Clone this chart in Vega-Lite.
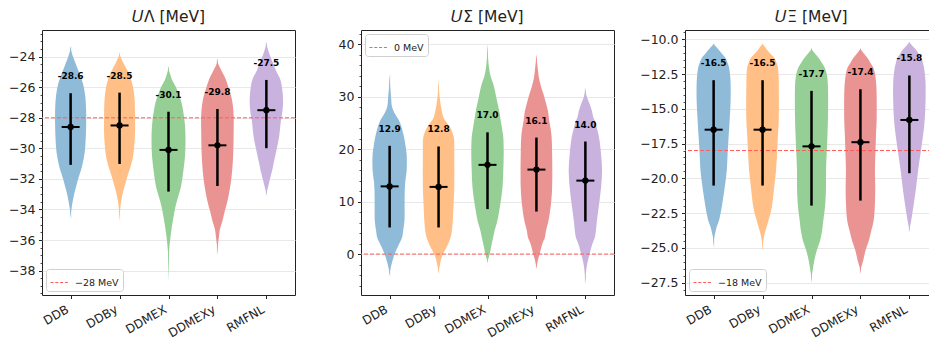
{
"$schema": "https://vega.github.io/schema/vega-lite/v6.json",
"padding": {"left": 1, "top": 9, "right": 0, "bottom": 0},
"spacing": 24,
"config": {
 "font": "DejaVu Sans",
 "view": {"stroke": "#222", "strokeWidth": 1},
 "axis": {"labelFont": "DejaVu Sans", "labelFontSize": 12.5, "labelColor": "#222", "tickColor": "#222", "tickSize": 3.5, "domain": false, "labelPadding": 3.5},
 "axisY": {"grid": true, "gridColor": "#e8e8e8", "gridWidth": 1, "minExtent": 40, "maxExtent": 40, "tickCount": 40},
 "axisX": {"grid": false, "labelAngle": -30, "labelAlign": "right", "labelBaseline": "top", "labelPadding": 5, "labelOffset": -6, "labelFontSize": 12},
 "title": {"font": "DejaVu Sans", "fontSize": 15.5, "fontWeight": "normal", "color": "#222", "offset": 5},
 "legend": {"labelFont": "DejaVu Sans", "labelFontSize": 9.5, "labelColor": "#222", "symbolType": "stroke", "symbolSize": 324, "symbolStrokeWidth": 1, "symbolDash": [3, 1.8], "strokeColor": "#d0d0d0", "fillColor": "white", "padding": 4, "cornerRadius": 3, "offset": 4, "labelOffset": 6}
},
"datasets": {
 "lam": [
  {"m":"DDB","v":-23.3,"d":0},{"m":"DDB","v":-23.7,"d":0.075},{"m":"DDB","v":-24.2,"d":0.2},{"m":"DDB","v":-24.7,"d":0.35},{"m":"DDB","v":-25.2,"d":0.5},{"m":"DDB","v":-25.8,"d":0.65},{"m":"DDB","v":-26.5,"d":0.75},{"m":"DDB","v":-27.5,"d":0.8},{"m":"DDB","v":-28.5,"d":0.8},{"m":"DDB","v":-29.5,"d":0.775},{"m":"DDB","v":-30.3,"d":0.725},{"m":"DDB","v":-31.0,"d":0.625},{"m":"DDB","v":-31.5,"d":0.525},{"m":"DDB","v":-32.0,"d":0.4},{"m":"DDB","v":-32.5,"d":0.3},{"m":"DDB","v":-33.0,"d":0.2},{"m":"DDB","v":-33.5,"d":0.125},{"m":"DDB","v":-34.0,"d":0.06},{"m":"DDB","v":-34.6,"d":0},
  {"m":"DDBy","v":-23.7,"d":0},{"m":"DDBy","v":-24.0,"d":0.075},{"m":"DDBy","v":-24.5,"d":0.25},{"m":"DDBy","v":-25.0,"d":0.45},{"m":"DDBy","v":-25.5,"d":0.6},{"m":"DDBy","v":-26.0,"d":0.7},{"m":"DDBy","v":-26.8,"d":0.775},{"m":"DDBy","v":-28.0,"d":0.8},{"m":"DDBy","v":-29.0,"d":0.8},{"m":"DDBy","v":-30.0,"d":0.75},{"m":"DDBy","v":-30.7,"d":0.675},{"m":"DDBy","v":-31.3,"d":0.55},{"m":"DDBy","v":-31.9,"d":0.4},{"m":"DDBy","v":-32.5,"d":0.275},{"m":"DDBy","v":-33.0,"d":0.175},{"m":"DDBy","v":-33.5,"d":0.1},{"m":"DDBy","v":-34.2,"d":0.04},{"m":"DDBy","v":-34.8,"d":0},
  {"m":"DDMEX","v":-24.6,"d":0},{"m":"DDMEX","v":-25.0,"d":0.075},{"m":"DDMEX","v":-25.5,"d":0.2},{"m":"DDMEX","v":-26.0,"d":0.4},{"m":"DDMEX","v":-26.5,"d":0.55},{"m":"DDMEX","v":-27.0,"d":0.675},{"m":"DDMEX","v":-27.7,"d":0.775},{"m":"DDMEX","v":-28.5,"d":0.85},{"m":"DDMEX","v":-29.5,"d":0.875},{"m":"DDMEX","v":-30.5,"d":0.85},{"m":"DDMEX","v":-31.4,"d":0.775},{"m":"DDMEX","v":-32.5,"d":0.65},{"m":"DDMEX","v":-33.2,"d":0.5},{"m":"DDMEX","v":-33.8,"d":0.375},{"m":"DDMEX","v":-34.5,"d":0.275},{"m":"DDMEX","v":-35.3,"d":0.175},{"m":"DDMEX","v":-35.8,"d":0.125},{"m":"DDMEX","v":-36.4,"d":0.075},{"m":"DDMEX","v":-37.2,"d":0.035},{"m":"DDMEX","v":-38.6,"d":0},
  {"m":"DDMEXy","v":-24.1,"d":0},{"m":"DDMEXy","v":-24.5,"d":0.075},{"m":"DDMEXy","v":-25.1,"d":0.3},{"m":"DDMEXy","v":-25.5,"d":0.45},{"m":"DDMEXy","v":-26.0,"d":0.575},{"m":"DDMEXy","v":-26.8,"d":0.75},{"m":"DDMEXy","v":-27.8,"d":0.835},{"m":"DDMEXy","v":-29.0,"d":0.835},{"m":"DDMEXy","v":-30.3,"d":0.815},{"m":"DDMEXy","v":-31.4,"d":0.765},{"m":"DDMEXy","v":-32.5,"d":0.665},{"m":"DDMEXy","v":-33.6,"d":0.5},{"m":"DDMEXy","v":-34.2,"d":0.375},{"m":"DDMEXy","v":-34.7,"d":0.285},{"m":"DDMEXy","v":-35.3,"d":0.15},{"m":"DDMEXy","v":-35.8,"d":0.1},{"m":"DDMEXy","v":-36.3,"d":0.05},{"m":"DDMEXy","v":-37.0,"d":0},
  {"m":"RMFNL","v":-23.0,"d":0},{"m":"RMFNL","v":-23.4,"d":0.075},{"m":"RMFNL","v":-23.9,"d":0.2},{"m":"RMFNL","v":-24.4,"d":0.35},{"m":"RMFNL","v":-24.9,"d":0.5},{"m":"RMFNL","v":-25.5,"d":0.725},{"m":"RMFNL","v":-26.2,"d":0.825},{"m":"RMFNL","v":-27.0,"d":0.86},{"m":"RMFNL","v":-27.6,"d":0.825},{"m":"RMFNL","v":-28.2,"d":0.75},{"m":"RMFNL","v":-29.2,"d":0.665},{"m":"RMFNL","v":-30.3,"d":0.5},{"m":"RMFNL","v":-30.9,"d":0.4},{"m":"RMFNL","v":-31.4,"d":0.325},{"m":"RMFNL","v":-31.9,"d":0.225},{"m":"RMFNL","v":-32.3,"d":0.15},{"m":"RMFNL","v":-32.7,"d":0.075},{"m":"RMFNL","v":-33.1,"d":0}
 ],
 "sig": [
  {"m":"DDB","v":34.3,"d":0},{"m":"DDB","v":32,"d":0.05},{"m":"DDB","v":29.8,"d":0.1},{"m":"DDB","v":28,"d":0.15},{"m":"DDB","v":26.7,"d":0.3},{"m":"DDB","v":25.4,"d":0.5},{"m":"DDB","v":23.8,"d":0.65},{"m":"DDB","v":22.2,"d":0.75},{"m":"DDB","v":20.5,"d":0.825},{"m":"DDB","v":19,"d":0.875},{"m":"DDB","v":15.9,"d":0.875},{"m":"DDB","v":13.5,"d":0.8},{"m":"DDB","v":11,"d":0.775},{"m":"DDB","v":8,"d":0.775},{"m":"DDB","v":6.3,"d":0.765},{"m":"DDB","v":4.4,"d":0.7},{"m":"DDB","v":3.2,"d":0.65},{"m":"DDB","v":1.9,"d":0.5},{"m":"DDB","v":0,"d":0.275},{"m":"DDB","v":-1.9,"d":0.125},{"m":"DDB","v":-3.0,"d":0.06},{"m":"DDB","v":-4.3,"d":0},
  {"m":"DDBy","v":33.3,"d":0},{"m":"DDBy","v":31,"d":0.05},{"m":"DDBy","v":29.2,"d":0.1},{"m":"DDBy","v":27.5,"d":0.175},{"m":"DDBy","v":26,"d":0.275},{"m":"DDBy","v":25,"d":0.45},{"m":"DDBy","v":23.8,"d":0.65},{"m":"DDBy","v":22.2,"d":0.79},{"m":"DDBy","v":19,"d":0.81},{"m":"DDBy","v":12.7,"d":0.81},{"m":"DDBy","v":9.5,"d":0.775},{"m":"DDBy","v":6.3,"d":0.735},{"m":"DDBy","v":4.4,"d":0.69},{"m":"DDBy","v":3.2,"d":0.625},{"m":"DDBy","v":1.9,"d":0.5},{"m":"DDBy","v":0,"d":0.25},{"m":"DDBy","v":-1.0,"d":0.15},{"m":"DDBy","v":-1.9,"d":0.1},{"m":"DDBy","v":-3.0,"d":0.04},{"m":"DDBy","v":-3.8,"d":0},
  {"m":"DDMEX","v":40,"d":0},{"m":"DDMEX","v":37.5,"d":0.05},{"m":"DDMEX","v":35.5,"d":0.1},{"m":"DDMEX","v":34,"d":0.175},{"m":"DDMEX","v":32.4,"d":0.315},{"m":"DDMEX","v":30.8,"d":0.415},{"m":"DDMEX","v":29.2,"d":0.5},{"m":"DDMEX","v":27.5,"d":0.6},{"m":"DDMEX","v":26,"d":0.665},{"m":"DDMEX","v":24,"d":0.75},{"m":"DDMEX","v":22.2,"d":0.815},{"m":"DDMEX","v":19,"d":0.835},{"m":"DDMEX","v":15.9,"d":0.815},{"m":"DDMEX","v":12.7,"d":0.775},{"m":"DDMEX","v":9.5,"d":0.665},{"m":"DDMEX","v":6.3,"d":0.515},{"m":"DDMEX","v":4.4,"d":0.375},{"m":"DDMEX","v":3.2,"d":0.31},{"m":"DDMEX","v":1.9,"d":0.235},{"m":"DDMEX","v":0,"d":0.135},{"m":"DDMEX","v":-1.0,"d":0.06},{"m":"DDMEX","v":-1.7,"d":0},
  {"m":"DDMEXy","v":38.1,"d":0},{"m":"DDMEXy","v":36,"d":0.075},{"m":"DDMEXy","v":33.6,"d":0.15},{"m":"DDMEXy","v":32,"d":0.25},{"m":"DDMEXy","v":30.5,"d":0.375},{"m":"DDMEXy","v":28.8,"d":0.5},{"m":"DDMEXy","v":27.3,"d":0.6},{"m":"DDMEXy","v":25.4,"d":0.665},{"m":"DDMEXy","v":23.8,"d":0.74},{"m":"DDMEXy","v":22.2,"d":0.785},{"m":"DDMEXy","v":19,"d":0.81},{"m":"DDMEXy","v":12.7,"d":0.81},{"m":"DDMEXy","v":9.5,"d":0.75},{"m":"DDMEXy","v":6.3,"d":0.625},{"m":"DDMEXy","v":4.4,"d":0.5},{"m":"DDMEXy","v":3.2,"d":0.45},{"m":"DDMEXy","v":1.9,"d":0.315},{"m":"DDMEXy","v":0,"d":0.185},{"m":"DDMEXy","v":-1.0,"d":0.11},{"m":"DDMEXy","v":-1.9,"d":0.06},{"m":"DDMEXy","v":-2.8,"d":0},
  {"m":"RMFNL","v":31.7,"d":0},{"m":"RMFNL","v":30,"d":0.1},{"m":"RMFNL","v":28.5,"d":0.25},{"m":"RMFNL","v":27.3,"d":0.35},{"m":"RMFNL","v":26,"d":0.425},{"m":"RMFNL","v":25.4,"d":0.5},{"m":"RMFNL","v":23.8,"d":0.615},{"m":"RMFNL","v":22.2,"d":0.71},{"m":"RMFNL","v":19,"d":0.81},{"m":"RMFNL","v":15.9,"d":0.86},{"m":"RMFNL","v":12.7,"d":0.81},{"m":"RMFNL","v":9.5,"d":0.71},{"m":"RMFNL","v":6.3,"d":0.6},{"m":"RMFNL","v":4.4,"d":0.55},{"m":"RMFNL","v":3.2,"d":0.5},{"m":"RMFNL","v":1.9,"d":0.375},{"m":"RMFNL","v":0,"d":0.235},{"m":"RMFNL","v":-1.9,"d":0.115},{"m":"RMFNL","v":-3.8,"d":0.05},{"m":"RMFNL","v":-4.8,"d":0.025},{"m":"RMFNL","v":-5.7,"d":0}
 ],
 "xi": [
  {"m":"DDB","v":-10.3,"d":0},{"m":"DDB","v":-10.5,"d":0.125},{"m":"DDB","v":-10.77,"d":0.29},{"m":"DDB","v":-11.1,"d":0.475},{"m":"DDB","v":-11.37,"d":0.625},{"m":"DDB","v":-11.7,"d":0.725},{"m":"DDB","v":-12.0,"d":0.79},{"m":"DDB","v":-12.6,"d":0.85},{"m":"DDB","v":-13.2,"d":0.875},{"m":"DDB","v":-14.4,"d":0.875},{"m":"DDB","v":-15.6,"d":0.835},{"m":"DDB","v":-17.0,"d":0.775},{"m":"DDB","v":-18.2,"d":0.725},{"m":"DDB","v":-19.4,"d":0.685},{"m":"DDB","v":-20.6,"d":0.585},{"m":"DDB","v":-21.8,"d":0.46},{"m":"DDB","v":-22.5,"d":0.375},{"m":"DDB","v":-23.05,"d":0.29},{"m":"DDB","v":-23.5,"d":0.175},{"m":"DDB","v":-23.8,"d":0.125},{"m":"DDB","v":-24.3,"d":0.05},{"m":"DDB","v":-25.0,"d":0},
  {"m":"DDBy","v":-10.3,"d":0},{"m":"DDBy","v":-10.5,"d":0.125},{"m":"DDBy","v":-10.77,"d":0.25},{"m":"DDBy","v":-11.1,"d":0.45},{"m":"DDBy","v":-11.37,"d":0.625},{"m":"DDBy","v":-11.7,"d":0.725},{"m":"DDBy","v":-12.0,"d":0.79},{"m":"DDBy","v":-12.6,"d":0.825},{"m":"DDBy","v":-13.2,"d":0.835},{"m":"DDBy","v":-15.8,"d":0.835},{"m":"DDBy","v":-17.0,"d":0.79},{"m":"DDBy","v":-18.2,"d":0.75},{"m":"DDBy","v":-19.4,"d":0.7},{"m":"DDBy","v":-20.6,"d":0.61},{"m":"DDBy","v":-21.8,"d":0.515},{"m":"DDBy","v":-22.5,"d":0.425},{"m":"DDBy","v":-23.05,"d":0.315},{"m":"DDBy","v":-23.5,"d":0.225},{"m":"DDBy","v":-24.0,"d":0.125},{"m":"DDBy","v":-24.5,"d":0.06},{"m":"DDBy","v":-25.2,"d":0},
  {"m":"DDMEX","v":-10.65,"d":0},{"m":"DDMEX","v":-10.9,"d":0.125},{"m":"DDMEX","v":-11.26,"d":0.335},{"m":"DDMEX","v":-11.6,"d":0.5},{"m":"DDMEX","v":-11.98,"d":0.665},{"m":"DDMEX","v":-12.3,"d":0.75},{"m":"DDMEX","v":-12.7,"d":0.81},{"m":"DDMEX","v":-13.5,"d":0.85},{"m":"DDMEX","v":-15.5,"d":0.85},{"m":"DDMEX","v":-16.8,"d":0.825},{"m":"DDMEX","v":-18.2,"d":0.785},{"m":"DDMEX","v":-19.4,"d":0.75},{"m":"DDMEX","v":-20.6,"d":0.75},{"m":"DDMEX","v":-21.8,"d":0.715},{"m":"DDMEX","v":-23.05,"d":0.615},{"m":"DDMEX","v":-23.8,"d":0.55},{"m":"DDMEX","v":-24.5,"d":0.45},{"m":"DDMEX","v":-25.2,"d":0.285},{"m":"DDMEX","v":-25.9,"d":0.165},{"m":"DDMEX","v":-26.6,"d":0.085},{"m":"DDMEX","v":-27.1,"d":0.035},{"m":"DDMEX","v":-27.5,"d":0},
  {"m":"DDMEXy","v":-10.65,"d":0},{"m":"DDMEXy","v":-10.9,"d":0.125},{"m":"DDMEXy","v":-11.37,"d":0.39},{"m":"DDMEXy","v":-11.7,"d":0.525},{"m":"DDMEXy","v":-11.98,"d":0.65},{"m":"DDMEXy","v":-12.3,"d":0.725},{"m":"DDMEXy","v":-12.7,"d":0.775},{"m":"DDMEXy","v":-13.5,"d":0.825},{"m":"DDMEXy","v":-15.8,"d":0.835},{"m":"DDMEXy","v":-17.0,"d":0.8},{"m":"DDMEXy","v":-18.2,"d":0.775},{"m":"DDMEXy","v":-19.4,"d":0.75},{"m":"DDMEXy","v":-20.6,"d":0.765},{"m":"DDMEXy","v":-21.8,"d":0.75},{"m":"DDMEXy","v":-23.05,"d":0.685},{"m":"DDMEXy","v":-23.8,"d":0.56},{"m":"DDMEXy","v":-24.5,"d":0.44},{"m":"DDMEXy","v":-25.2,"d":0.275},{"m":"DDMEXy","v":-25.9,"d":0.165},{"m":"DDMEXy","v":-26.4,"d":0.065},{"m":"DDMEXy","v":-26.9,"d":0},
  {"m":"RMFNL","v":-10.17,"d":0},{"m":"RMFNL","v":-10.4,"d":0.14},{"m":"RMFNL","v":-10.77,"d":0.365},{"m":"RMFNL","v":-11.07,"d":0.5},{"m":"RMFNL","v":-11.37,"d":0.635},{"m":"RMFNL","v":-11.7,"d":0.7},{"m":"RMFNL","v":-11.98,"d":0.75},{"m":"RMFNL","v":-12.5,"d":0.8},{"m":"RMFNL","v":-13.2,"d":0.835},{"m":"RMFNL","v":-14.4,"d":0.835},{"m":"RMFNL","v":-15.6,"d":0.8},{"m":"RMFNL","v":-16.3,"d":0.76},{"m":"RMFNL","v":-17.0,"d":0.7},{"m":"RMFNL","v":-18.2,"d":0.585},{"m":"RMFNL","v":-19.4,"d":0.465},{"m":"RMFNL","v":-20.6,"d":0.365},{"m":"RMFNL","v":-21.8,"d":0.25},{"m":"RMFNL","v":-22.5,"d":0.175},{"m":"RMFNL","v":-23.05,"d":0.115},{"m":"RMFNL","v":-23.5,"d":0.05},{"m":"RMFNL","v":-23.9,"d":0}
 ],
 "lamS": [
  {"m":"DDB","lo":-31.08,"med":-28.6,"hi":-26.39,"lab":"-28.6"},
  {"m":"DDBy","lo":-31.02,"med":-28.5,"hi":-26.35,"lab":"-28.5"},
  {"m":"DDMEX","lo":-32.83,"med":-30.1,"hi":-27.6,"lab":"-30.1"},
  {"m":"DDMEXy","lo":-32.46,"med":-29.8,"hi":-27.42,"lab":"-29.8"},
  {"m":"RMFNL","lo":-29.99,"med":-27.5,"hi":-25.52,"lab":"-27.5"}
 ],
 "sigS": [
  {"m":"DDB","lo":5.07,"med":12.9,"hi":20.63,"lab":"12.9"},
  {"m":"DDBy","lo":5.07,"med":12.8,"hi":20.5,"lab":"12.8"},
  {"m":"DDMEX","lo":8.57,"med":17.0,"hi":23.2,"lab":"17.0"},
  {"m":"DDMEXy","lo":8.1,"med":16.1,"hi":22.2,"lab":"16.1"},
  {"m":"RMFNL","lo":6.2,"med":14.0,"hi":21.45,"lab":"14.0"}
 ],
 "xiS": [
  {"m":"DDB","lo":-20.52,"med":-16.5,"hi":-12.94,"lab":"-16.5"},
  {"m":"DDBy","lo":-20.52,"med":-16.5,"hi":-12.94,"lab":"-16.5"},
  {"m":"DDMEX","lo":-21.96,"med":-17.7,"hi":-13.71,"lab":"-17.7"},
  {"m":"DDMEXy","lo":-21.6,"med":-17.4,"hi":-13.59,"lab":"-17.4"},
  {"m":"RMFNL","lo":-19.63,"med":-15.8,"hi":-12.6,"lab":"-15.8"}
 ]
},
"hconcat": [
 {
  "width": 253, "height": 265,
  "title": "𝑈Λ [MeV]",
  "layer": [
   {"data": {"name": "lam"}, "mark": {"type": "line", "interpolate": "catmull-rom", "strokeWidth": 0, "strokeOpacity": 0},
    "encoding": {
     "y": {"field": "v", "type": "quantitative", "title": null, "scale": {"domain": [-39.6, -22.25], "nice": false, "zero": false}, "axis": {"orient": "left", "format": "d", "values": [-38, -36, -34, -32, -30, -28, -26, -24]}},
     "x": {"field": "m", "type": "nominal", "title": null, "sort": null, "scale": {"type": "point", "padding": 0.585, "domain": ["DDB","DDBy","DDMEX","DDMEXy","RMFNL"]}},
     "xOffset": {"field": "d", "type": "quantitative", "scale": {"domain": [0, 1], "range": [-0.5, 19.5]}},
     "order": {"field": "v", "type": "quantitative"},
     "fill": {"field": "m", "type": "nominal", "scale": {"domain": ["DDB","DDBy","DDMEX","DDMEXy","RMFNL"], "range": ["#8fbbd9","#ffbf86","#95cf95","#ea9393","#c9b3de"]}, "legend": null}
    }},
   {"data": {"name": "lam"}, "mark": {"type": "line", "interpolate": "catmull-rom", "strokeWidth": 0, "strokeOpacity": 0},
    "encoding": {
     "y": {"field": "v", "type": "quantitative", "title": null, "axis": {"orient": "left", "grid": false, "labels": false, "tickSize": 2, "tickWidth": 0.8, "values": [-39.5,-39,-38.5,-37.5,-37,-36.5,-35.5,-35,-34.5,-33.5,-33,-32.5,-31.5,-31,-30.5,-29.5,-29,-28.5,-27.5,-27,-26.5,-25.5,-25,-24.5,-23.5,-23,-22.5]}},
     "x": {"field": "m", "type": "nominal", "title": null},
     "xOffset": {"field": "d", "type": "quantitative", "scale": {"domain": [0, 1], "range": [0.5, -19.5]}},
     "order": {"field": "v", "type": "quantitative"},
     "fill": {"field": "m", "type": "nominal", "legend": null}
    }},
   {"data": {"values": [{"v": -28, "lab": "−28 MeV"}]}, "mark": {"type": "rule", "strokeDash": [4, 2], "strokeWidth": 1},
    "encoding": {
     "y": {"field": "v", "type": "quantitative", "title": null, "axis": null},
     "stroke": {"field": "lab", "type": "nominal", "scale": {"range": ["#ff5c5c"]}, "legend": {"title": null, "orient": "bottom-left"}}
    }},
   {"data": {"name": "lamS"},
    "layer": [
     {"mark": {"type": "rule", "strokeWidth": 2.5, "color": "black"}, "encoding": {"x": {"field": "m", "type": "nominal", "title": null}, "y": {"field": "lo", "type": "quantitative", "title": null, "axis": null}, "y2": {"field": "hi"}}},
     {"mark": {"type": "tick", "orient": "horizontal", "size": 18, "thickness": 2, "color": "black", "opacity": 1}, "encoding": {"x": {"field": "m", "type": "nominal", "title": null}, "y": {"field": "med", "type": "quantitative", "title": null, "axis": null}}},
     {"mark": {"type": "circle", "size": 40, "color": "black", "opacity": 1}, "encoding": {"x": {"field": "m", "type": "nominal", "title": null}, "y": {"field": "med", "type": "quantitative", "title": null, "axis": null}}},
     {"mark": {"type": "text", "dy": -17, "fontSize": 9, "fontWeight": "bold", "color": "black", "baseline": "middle"}, "encoding": {"x": {"field": "m", "type": "nominal", "title": null}, "y": {"field": "hi", "type": "quantitative", "title": null, "axis": null}, "text": {"field": "lab"}}}
    ]}
  ],
  "resolve": {"scale": {"xOffset": "independent"}, "axis": {"y": "independent"}}
 },
 {
  "width": 253, "height": 265,
  "title": "𝑈Σ [MeV]",
  "layer": [
   {"data": {"name": "sig"}, "mark": {"type": "line", "interpolate": "catmull-rom", "strokeWidth": 0, "strokeOpacity": 0},
    "encoding": {
     "y": {"field": "v", "type": "quantitative", "title": null, "scale": {"domain": [-7.8, 42.7], "nice": false, "zero": false}, "axis": {"orient": "left", "format": "d", "values": [0, 10, 20, 30, 40]}},
     "x": {"field": "m", "type": "nominal", "title": null, "sort": null, "scale": {"type": "point", "padding": 0.585, "domain": ["DDB","DDBy","DDMEX","DDMEXy","RMFNL"]}},
     "xOffset": {"field": "d", "type": "quantitative", "scale": {"domain": [0, 1], "range": [-0.5, 19.5]}},
     "order": {"field": "v", "type": "quantitative"},
     "fill": {"field": "m", "type": "nominal", "scale": {"domain": ["DDB","DDBy","DDMEX","DDMEXy","RMFNL"], "range": ["#8fbbd9","#ffbf86","#95cf95","#ea9393","#c9b3de"]}, "legend": null}
    }},
   {"data": {"name": "sig"}, "mark": {"type": "line", "interpolate": "catmull-rom", "strokeWidth": 0, "strokeOpacity": 0},
    "encoding": {
     "y": {"field": "v", "type": "quantitative", "title": null, "axis": {"orient": "left", "grid": false, "labels": false, "tickSize": 2, "tickWidth": 0.8, "values": [-6,-4,-2,2,4,6,8,12,14,16,18,22,24,26,28,32,34,36,38,42]}},
     "x": {"field": "m", "type": "nominal", "title": null},
     "xOffset": {"field": "d", "type": "quantitative", "scale": {"domain": [0, 1], "range": [0.5, -19.5]}},
     "order": {"field": "v", "type": "quantitative"},
     "fill": {"field": "m", "type": "nominal", "legend": null}
    }},
   {"data": {"values": [{"v": 0, "lab": "0 MeV"}]}, "mark": {"type": "rule", "strokeDash": [4, 2], "strokeWidth": 1},
    "encoding": {
     "y": {"field": "v", "type": "quantitative", "title": null, "axis": null},
     "stroke": {"field": "lab", "type": "nominal", "scale": {"range": ["#ff5c5c"]}, "legend": {"title": null, "orient": "top-left"}}
    }},
   {"data": {"name": "sigS"},
    "layer": [
     {"mark": {"type": "rule", "strokeWidth": 2.5, "color": "black"}, "encoding": {"x": {"field": "m", "type": "nominal", "title": null}, "y": {"field": "lo", "type": "quantitative", "title": null, "axis": null}, "y2": {"field": "hi"}}},
     {"mark": {"type": "tick", "orient": "horizontal", "size": 18, "thickness": 2, "color": "black", "opacity": 1}, "encoding": {"x": {"field": "m", "type": "nominal", "title": null}, "y": {"field": "med", "type": "quantitative", "title": null, "axis": null}}},
     {"mark": {"type": "circle", "size": 40, "color": "black", "opacity": 1}, "encoding": {"x": {"field": "m", "type": "nominal", "title": null}, "y": {"field": "med", "type": "quantitative", "title": null, "axis": null}}},
     {"mark": {"type": "text", "dy": -17, "fontSize": 9, "fontWeight": "bold", "color": "black", "baseline": "middle"}, "encoding": {"x": {"field": "m", "type": "nominal", "title": null}, "y": {"field": "hi", "type": "quantitative", "title": null, "axis": null}, "text": {"field": "lab"}}}
    ]}
  ],
  "resolve": {"scale": {"xOffset": "independent"}, "axis": {"y": "independent"}}
 },
 {
  "width": 253, "height": 265,
  "title": "𝑈Ξ [MeV]",
  "layer": [
   {"data": {"name": "xi"}, "mark": {"type": "line", "interpolate": "catmull-rom", "strokeWidth": 0, "strokeOpacity": 0},
    "encoding": {
     "y": {"field": "v", "type": "quantitative", "title": null, "scale": {"domain": [-28.39, -9.33], "nice": false, "zero": false}, "axis": {"orient": "left", "values": [-27.5, -25, -22.5, -20, -17.5, -15, -12.5, -10], "format": ".1f"}},
     "x": {"field": "m", "type": "nominal", "title": null, "sort": null, "scale": {"type": "point", "padding": 0.585, "domain": ["DDB","DDBy","DDMEX","DDMEXy","RMFNL"]}},
     "xOffset": {"field": "d", "type": "quantitative", "scale": {"domain": [0, 1], "range": [-0.5, 19.5]}},
     "order": {"field": "v", "type": "quantitative"},
     "fill": {"field": "m", "type": "nominal", "scale": {"domain": ["DDB","DDBy","DDMEX","DDMEXy","RMFNL"], "range": ["#8fbbd9","#ffbf86","#95cf95","#ea9393","#c9b3de"]}, "legend": null}
    }},
   {"data": {"name": "xi"}, "mark": {"type": "line", "interpolate": "catmull-rom", "strokeWidth": 0, "strokeOpacity": 0},
    "encoding": {
     "y": {"field": "v", "type": "quantitative", "title": null, "axis": {"orient": "left", "grid": false, "labels": false, "tickSize": 2, "tickWidth": 0.8, "values": [-28,-27,-26.5,-26,-25.5,-24.5,-24,-23.5,-23,-22,-21.5,-21,-20.5,-19.5,-19,-18.5,-18,-17,-16.5,-16,-15.5,-14.5,-14,-13.5,-13,-12,-11.5,-11,-10.5,-9.5]}},
     "x": {"field": "m", "type": "nominal", "title": null},
     "xOffset": {"field": "d", "type": "quantitative", "scale": {"domain": [0, 1], "range": [0.5, -19.5]}},
     "order": {"field": "v", "type": "quantitative"},
     "fill": {"field": "m", "type": "nominal", "legend": null}
    }},
   {"data": {"values": [{"v": -18, "lab": "−18 MeV"}]}, "mark": {"type": "rule", "strokeDash": [4, 2], "strokeWidth": 1},
    "encoding": {
     "y": {"field": "v", "type": "quantitative", "title": null, "axis": null},
     "stroke": {"field": "lab", "type": "nominal", "scale": {"range": ["#ff5c5c"]}, "legend": {"title": null, "orient": "bottom-left"}}
    }},
   {"data": {"name": "xiS"},
    "layer": [
     {"mark": {"type": "rule", "strokeWidth": 2.5, "color": "black"}, "encoding": {"x": {"field": "m", "type": "nominal", "title": null}, "y": {"field": "lo", "type": "quantitative", "title": null, "axis": null}, "y2": {"field": "hi"}}},
     {"mark": {"type": "tick", "orient": "horizontal", "size": 18, "thickness": 2, "color": "black", "opacity": 1}, "encoding": {"x": {"field": "m", "type": "nominal", "title": null}, "y": {"field": "med", "type": "quantitative", "title": null, "axis": null}}},
     {"mark": {"type": "circle", "size": 40, "color": "black", "opacity": 1}, "encoding": {"x": {"field": "m", "type": "nominal", "title": null}, "y": {"field": "med", "type": "quantitative", "title": null, "axis": null}}},
     {"mark": {"type": "text", "dy": -17, "fontSize": 9, "fontWeight": "bold", "color": "black", "baseline": "middle"}, "encoding": {"x": {"field": "m", "type": "nominal", "title": null}, "y": {"field": "hi", "type": "quantitative", "title": null, "axis": null}, "text": {"field": "lab"}}}
    ]}
  ],
  "resolve": {"scale": {"xOffset": "independent"}, "axis": {"y": "independent"}}
 }
],
"resolve": {"scale": {"x": "independent", "y": "independent", "xOffset": "independent", "stroke": "independent", "fill": "independent"}, "legend": {"stroke": "independent"}}
}
